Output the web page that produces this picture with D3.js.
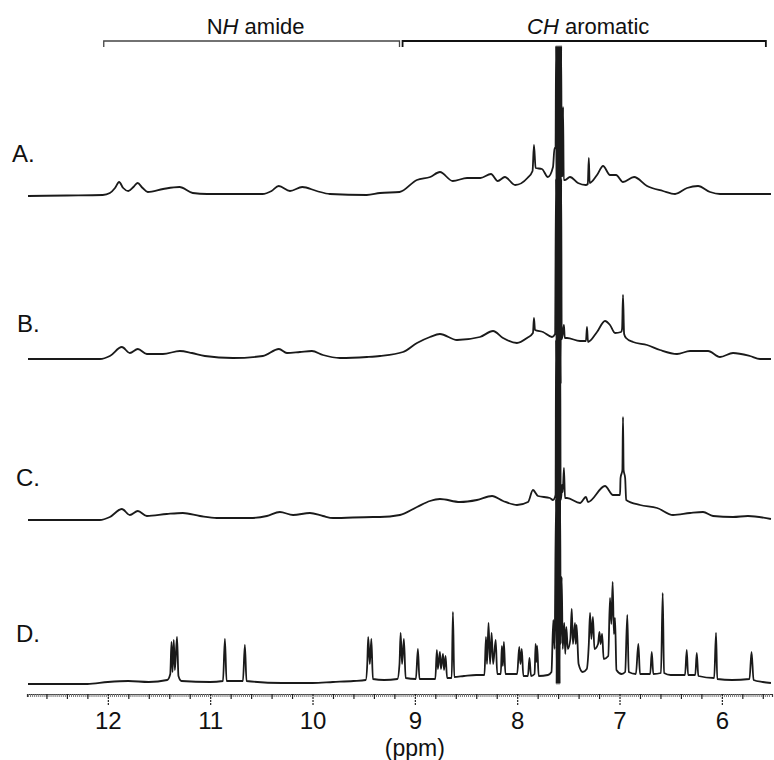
<!DOCTYPE html>
<html><head><meta charset="utf-8">
<script src="https://cdn.jsdelivr.net/npm/d3@7/dist/d3.min.js"></script>
<style>body{margin:0;background:#fff}svg{display:block;font-family:"Liberation Sans",Arial,sans-serif}</style>
</head><body><svg id="c" width="774" height="760"></svg>
<script>
// ---- data (ppm, intensity) ----
const rowLabels = ["A.", "B.", "C.", "D."];
const majorTicks = [12, 11, 10, 9, 8, 7, 6];
const axisTitle = "(ppm)";
const bracketRanges = [[12.04, 9.15], [9.12, 5.57]];
const bracketLabels = [[["N", false], ["H", true], [" amide", false]], [["CH", true], [" aromatic", false]]];

const specA = [[12.78,0],[12.4,0.5],[12.05,1],[11.98,3],[11.93,8],[11.89,14],[11.85,8],[11.80,5],[11.75,9],[11.71,13],[11.66,8],[11.61,4],[11.46,7],[11.30,9],[11.17,3],[11.03,2],[10.70,2],[10.49,2],[10.40,5],[10.33,10],[10.22,5],[10.10,9],[9.96,5],[9.83,2],[9.47,1],[9.34,3],[9.15,4],[8.98,16],[8.85,19],[8.755,24],[8.63,15],[8.49,18],[8.36,18],[8.256,22],[8.19,15],[8.12,19],[8.02,11],[7.90,18],[7.85,25],[7.836,51],[7.82,28],[7.758,27],[7.70,19],[7.65,29],[7.635,48],[7.625,48],
[7.62,150],[7.615,-25],[7.61,150],[7.605,-25],[7.60,150],[7.595,-25],[7.59,150],[7.585,-25],[7.58,150],[7.575,-25],[7.57,150],[7.565,20],[7.555,20],[7.552,89],[7.545,16],[7.533,16],[7.484,19],[7.406,13],[7.33,11],[7.31,12],[7.30,38],[7.292,13],[7.22,21],[7.161,30],[7.093,21],[7.034,21],[6.966,14],[6.858,19],[6.731,10],[6.575,5],[6.457,2],[6.34,8],[6.233,10],[6.115,4],[6.018,2],[5.80,2],[5.52,2]];

const specB = [[12.78,0],[12.244,0],[12.078,0],[11.98,3],[11.863,12],[11.785,6],[11.707,10],[11.619,5],[11.462,5],[11.296,8],[11.179,6],[11.052,3],[10.778,1],[10.485,3],[10.328,10],[10.25,6],[10.123,7],[10.006,8],[9.898,4],[9.732,1],[9.468,2],[9.341,3],[9.116,7],[8.979,16],[8.852,22],[8.755,25],[8.588,19],[8.364,22],[8.236,28],[8.138,21],[8.002,16],[7.904,21],[7.846,26],[7.836,41],[7.826,29],[7.748,27],[7.66,22],[7.63,25],
[7.62,180],[7.615,-25],[7.61,180],[7.605,-25],[7.60,180],[7.595,-25],[7.59,180],[7.585,-25],[7.58,180],[7.575,-25],[7.57,180],[7.565,20],[7.555,25],[7.543,34],[7.535,21],[7.513,21],[7.386,18],[7.328,18],[7.318,32],[7.308,17],[7.22,27],[7.142,38],[7.093,34],[7.044,26],[6.985,27],[6.975,30],[6.966,64],[6.955,25],[6.936,21],[6.868,17],[6.731,14],[6.604,9],[6.438,5],[6.311,8],[6.135,8],[6.018,2],[5.891,6],[5.725,3],[5.627,0],[5.52,0]];

const specC = [[12.78,0],[12.08,0],[11.98,3],[11.863,11],[11.785,5],[11.707,9],[11.619,4],[11.424,6],[11.267,7],[11.10,4],[10.935,2],[10.612,2],[10.446,4],[10.319,8],[10.19,5],[10.025,7],[9.898,4],[9.80,2],[9.41,3],[9.341,3],[9.146,5],[8.979,13],[8.852,19],[8.755,21],[8.559,18],[8.393,20],[8.246,24],[8.138,19],[8.002,15],[7.894,18],[7.846,30],[7.797,24],[7.68,22],[7.65,20],[7.625,25],
[7.62,180],[7.615,-25],[7.61,180],[7.605,-25],[7.60,180],[7.595,-25],[7.59,180],[7.585,-25],[7.58,180],[7.575,20],[7.568,25],[7.562,35],[7.555,28],[7.543,52],[7.533,22],[7.513,22],[7.386,17],[7.328,23],[7.308,18],[7.142,34],[7.064,25],[6.995,25],[6.99,42],[6.972,50],[6.966,103],[6.96,50],[6.945,42],[6.935,20],[6.799,15],[6.633,12],[6.477,5],[6.311,7],[6.184,8],[6.086,4],[5.891,3],[5.745,4],[5.52,1]];

const specD = [[12.78,0],[12.2,0],[12.0,2],[11.80,3],[11.60,2],[11.42,4],[11.39,10],[11.378,42],[11.368,12],[11.356,44],[11.345,14],[11.324,47],[11.31,8],[11.28,3],[11.0,2],[10.875,3],[10.856,45],[10.84,3],[10.68,3],[10.661,39],[10.645,3],[10.3,1],[10.0,1],[9.8,2],[9.6,3],[9.48,4],[9.465,20],[9.456,47],[9.44,20],[9.425,45],[9.41,5],[9.3,4],[9.17,5],[9.15,20],[9.139,51],[9.125,20],[9.107,45],[9.09,6],[8.99,5],[8.97,35],[8.955,5],[8.80,5],[8.785,34],[8.775,15],[8.755,32],[8.745,15],[8.725,30],[8.715,14],[8.70,28],[8.685,6],[8.64,6],[8.628,72],[8.615,7],[8.52,8],[8.40,9],[8.32,9],[8.305,47],[8.295,20],[8.28,61],[8.265,20],[8.25,51],[8.235,20],[8.21,44],[8.195,10],[8.16,10],[8.15,38],[8.14,18],[8.13,42],[8.115,10],[8.0,10],[7.98,37],[7.968,20],[7.955,35],[7.94,8],[7.895,8],[7.88,26],[7.865,8],[7.83,10],[7.82,40],[7.813,22],[7.805,38],[7.79,8],[7.70,9],[7.665,12],[7.647,64],[7.635,35],
[7.62,185],[7.615,0],[7.61,185],[7.605,0],[7.60,185],[7.595,0],[7.59,185],[7.585,0],[7.58,185],[7.575,40],[7.565,107],[7.555,35],[7.54,61],[7.53,30],[7.52,57],[7.505,35],[7.48,45],[7.467,75],[7.455,40],[7.435,61],[7.428,40],[7.42,59],[7.40,20],[7.36,12],[7.32,15],[7.30,40],[7.288,71],[7.275,45],[7.26,67],[7.245,35],[7.21,40],[7.196,52],[7.185,40],[7.17,50],[7.155,25],[7.11,28],[7.093,86],[7.08,60],[7.067,102],[7.055,50],[7.044,66],[7.03,14],[6.98,10],[6.945,12],[6.924,69],[6.91,12],[6.84,10],[6.816,40],[6.80,10],[6.70,10],[6.685,32],[6.67,10],[6.595,11],[6.578,91],[6.565,11],[6.50,9],[6.36,9],[6.343,34],[6.33,9],[6.26,9],[6.245,31],[6.23,8],[6.075,6],[6.057,51],[6.045,5],[5.90,4],[5.73,5],[5.71,32],[5.69,4],[5.60,2],[5.52,1]];

const spectra = [specA, specB, specC, specD];

// ---- layout ----
const svg = d3.select("#c");
const x = d3.scaleLinear().domain([12.79, 5.51]).range([27, 772]);
const y = d3.scaleLinear().domain([0, 100]).range([0, -100]);
const baselines = [196, 359, 520, 684];
const labelPos = [[12, 162], [17, 332], [16, 486], [16, 642]];
const axisY = 694;

svg.append("defs").append("clipPath").attr("id", "clip")
  .append("rect").attr("x", 27).attr("y", 44).attr("width", 746).attr("height", 648);

const line = d3.line().x(d => x(d[0])).y(d => y(d[1])).curve(d3.curveMonotoneX);
const g = svg.append("g").attr("clip-path", "url(#clip)");
spectra.forEach((s, i) => {
  g.append("path").attr("transform", `translate(0,${baselines[i]})`)
    .attr("d", line(s)).attr("fill", "none").attr("stroke", "#1a1a1a")
    .attr("stroke-width", 1.8).attr("stroke-linejoin", "round");
});

rowLabels.forEach((t, i) => {
  svg.append("text").attr("x", labelPos[i][0]).attr("y", labelPos[i][1])
    .attr("font-size", 24).attr("fill", "#111").text(t);
});

// brackets
bracketRanges.forEach((r, i) => {
  const x0 = x(r[0]), x1 = x(r[1]), by = 41;
  svg.append("path").attr("d", `M${x0},${by + 6}V${by}H${x1}V${by + 6}`)
    .attr("fill", "none").attr("stroke", i === 0 ? "#444" : "#111").attr("stroke-width", i === 0 ? 1.3 : 1.8);
  const t = svg.append("text").attr("x", (x0 + x1) / 2 + 4).attr("y", 34)
    .attr("text-anchor", "middle").attr("font-size", 22).attr("fill", "#111");
  bracketLabels[i].forEach(p => t.append("tspan").attr("font-style", p[1] ? "italic" : "normal").text(p[0]));
});

// axis
const fine = d3.range(12.78, 5.52, -0.02);
svg.append("g").attr("transform", `translate(0,${axisY})`)
  .call(d3.axisBottom(x).tickValues(fine).tickSize(3).tickFormat(""))
  .call(a => a.selectAll("line").attr("stroke", "#777"))
  .call(a => a.select(".domain").attr("stroke", "#333").attr("stroke-width", 1.2));
const minor = d3.range(12.6, 5.55, -0.2).filter(v => Math.abs(v - Math.round(v)) > 0.01);
svg.append("g").attr("transform", `translate(0,${axisY})`)
  .call(d3.axisBottom(x).tickValues(minor).tickSize(5).tickFormat(""))
  .call(a => a.select(".domain").remove())
  .call(a => a.selectAll("line").attr("stroke", "#222").attr("stroke-width", 1.2));
svg.append("g").attr("transform", `translate(0,${axisY})`)
  .call(d3.axisBottom(x).tickValues(majorTicks).tickSize(11).tickFormat(d3.format("d")))
  .call(a => a.select(".domain").remove())
  .call(a => a.selectAll("line").attr("stroke", "#222").attr("stroke-width", 1.2).attr("stroke-dasharray", "2,1"))
  .call(a => a.selectAll("text").attr("y", 35).attr("dy", 0).attr("font-size", 24)
    .attr("fill", "#111").attr("font-family", "'Liberation Sans', Arial, sans-serif"));
svg.append("text").attr("x", x(9)).attr("y", 756).attr("text-anchor", "middle")
  .attr("font-size", 23).attr("fill", "#111").text(axisTitle);
</script></body></html>
